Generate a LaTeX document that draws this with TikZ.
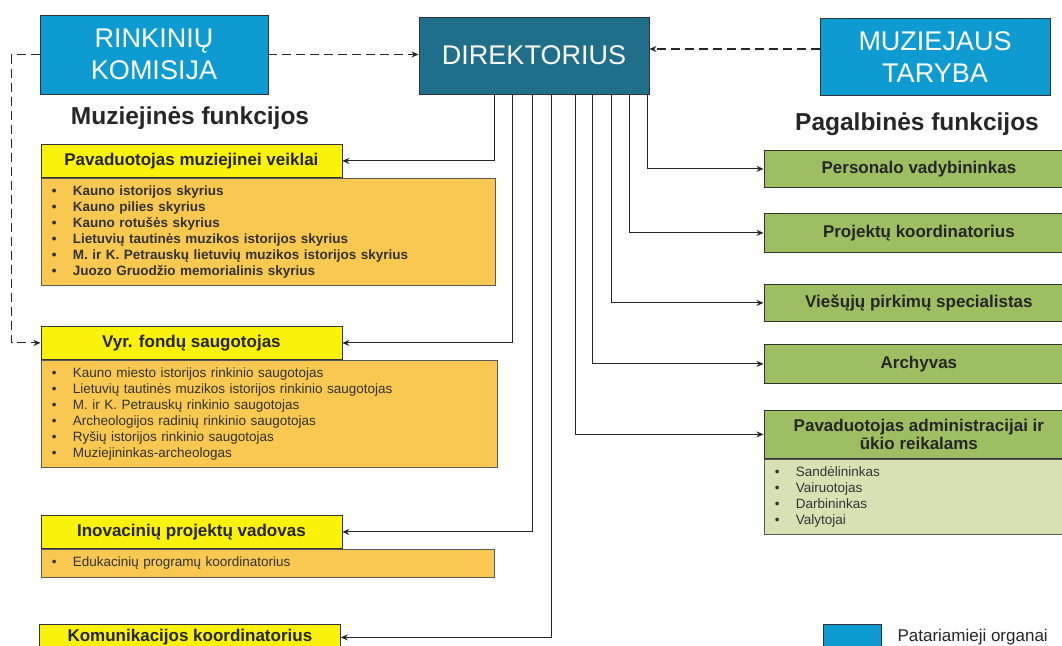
\documentclass[tikz,border=0pt]{standalone}
\usepackage{fontspec}
\setmainfont{Liberation Sans}
\usetikzlibrary{arrows.meta,positioning}
\definecolor{dirblue}{RGB}{31,110,138}
\definecolor{advblue}{RGB}{14,155,210}
\definecolor{hdryellow}{RGB}{250,242,10}
\definecolor{lstorange}{RGB}{248,200,80}
\definecolor{grn}{RGB}{158,190,98}
\definecolor{lgrn}{RGB}{214,226,180}
\newcommand{\bul}{\makebox[21pt][l]{\textbullet}}

\begin{document}
\begin{tikzpicture}[x = 1pt, y = -1pt,
		conn/.style = {draw = black!85, line width = 1.1pt},
		arr/.style = {conn, -{Stealth[length = 7pt, width = 6pt]}},
		darr/.style = {arr, dash pattern = on 9pt off 5pt},
		bigbox/.style = {draw = black!80, line width = 0.9pt, minimum width = 230pt, minimum height = 77pt, inner sep = 0pt, align = center, text = white, font = \fontsize{27}{32}\selectfont},
		hdr/.style = {draw = black!80, line width = 0.8pt, fill = hdryellow, minimum width = 301pt, minimum height = 33pt, inner sep = 0pt, anchor = north west, text = black!85, font = \fontsize{17}{17}\selectfont\bfseries},
		lst/.style = {draw = black!65, line width = 0.7pt, fill = lstorange, inner xsep = 11pt, inner ysep = 0pt, anchor = north west, align = left, text = black!80, font = \fontsize{13.5}{16}\selectfont},
		gbox/.style = {draw = black!80, line width = 0.8pt, fill = grn, minimum width = 310pt, inner sep = 0pt, anchor = north west, align = center, text = black!85, font = \fontsize{17}{17.3}\selectfont\bfseries},
		title/.style = {text = black!85, font = \fontsize{24.5}{24.5}\selectfont\bfseries}]
		\clip (0,0) rectangle (1062,645);
		% top row
		\node (rk) at (154,54.5) [bigbox, fill = advblue, minimum width = 228pt, minimum height = 79pt] {RINKINIŲ\\KOMISIJA};
		\node (dir) at (534,55.5) [bigbox, fill = dirblue] {DIREKTORIUS};
		\node (mt) at (935,57) [bigbox, fill = advblue] {MUZIEJAUS\\TARYBA};
		\node (mf) at (190,118) [title] {Muziejinės funkcijos};
		\node (pf) at (917,124.5) [title] {Pagalbinės funkcijos};
		% left column
		\node (pmv) at (40.5,144) [hdr] {Pavaduotojas muziejinei veiklai};
		\node (pmvl) at (pmv.south west) [lst, text width = 432pt, minimum height = 107pt, font = \fontsize{13.5}{16}\selectfont\bfseries] {\bul Kauno istorijos skyrius\\
			\bul Kauno pilies skyrius\\
			\bul Kauno rotušės skyrius\\
			\bul Lietuvių tautinės muzikos istorijos skyrius\\
			\bul M. ir K. Petrauskų lietuvių muzikos istorijos skyrius\\
			\bul Juozo Gruodžio memorialinis skyrius};
		\node (vfs) at (40.5,326) [hdr] {Vyr. fondų saugotojas};
		\node (vfsl) at (vfs.south west) [lst, text width = 434pt, minimum height = 107pt] {\bul Kauno miesto istorijos rinkinio saugotojas\\
			\bul Lietuvių tautinės muzikos istorijos rinkinio saugotojas\\
			\bul M. ir K. Petrauskų rinkinio saugotojas\\
			\bul Archeologijos radinių rinkinio saugotojas\\
			\bul Ryšių istorijos rinkinio saugotojas\\
			\bul Muziejininkas-archeologas};
		\node (ipv) at (40.5,515) [hdr] {Inovacinių projektų vadovas};
		\node (ipvl) at (ipv.south west) [lst, text width = 431pt, minimum height = 28pt] {\bul Edukacinių programų koordinatorius};
		\node (kk) at (39,624) [hdr, minimum height = 26pt] {Komunikacijos koordinatorius};
		% right column
		\node (pv) at (763.5,150) [gbox, minimum height = 37pt] {Personalo vadybininkas};
		\node (pk) at (763.5,213) [gbox, minimum height = 39pt] {Projektų koordinatorius};
		\node (vps) at (763.5,284) [gbox, minimum height = 37pt] {Viešųjų pirkimų specialistas};
		\node (arch) at (763.5,344) [gbox, minimum height = 39pt] {Archyvas};
		\node (pa) at (763.5,410) [gbox, minimum height = 48pt] {Pavaduotojas administracijai ir\\ūkio reikalams};
		\node (pal) at (pa.south west) [lst, fill = lgrn, text width = 288pt, minimum height = 75pt] {\bul Sandėlininkas\\
			\bul Vairuotojas\\
			\bul Darbininkas\\
			\bul Valytojai};
		% legend
		\node (lg) at (823,624) [draw = black!80, fill = advblue, minimum width = 58pt, minimum height = 33pt, inner sep = 0pt, anchor = north west] {};
		\node (lgt) at (894,637) [anchor = west, text = black!85, font = \fontsize{17}{17}\selectfont] {Patariamieji organai};
		% connectors
		\draw [darr] (rk.east) -- (rk.east -| dir.west);
		\draw [darr] ([yshift = 8pt]mt.west) -- ([yshift = 8pt]mt.west -| dir.east);
		\draw [darr] (rk.west) -- ++(-28,0) |- (vfs.west);
		\draw [arr] (dir.south west) ++(76,0) |- (pmv.east);
		\draw [arr] (dir.south west) ++(94,0) |- (vfs.east);
		\draw [arr] (dir.south west) ++(114,0) |- (ipv.east);
		\draw [arr] (dir.south west) ++(133,0) |- (kk.east);
		\draw [arr] (dir.south west) ++(157,0) |- (pa.west);
		\draw [arr] (dir.south west) ++(174,0) |- (arch.west);
		\draw [arr] (dir.south west) ++(193,0) |- (vps.west);
		\draw [arr] (dir.south west) ++(211,0) |- (pk.west);
		\draw [arr] (dir.south west) ++(229,0) |- (pv.west);
	\end{tikzpicture}
\end{document}
